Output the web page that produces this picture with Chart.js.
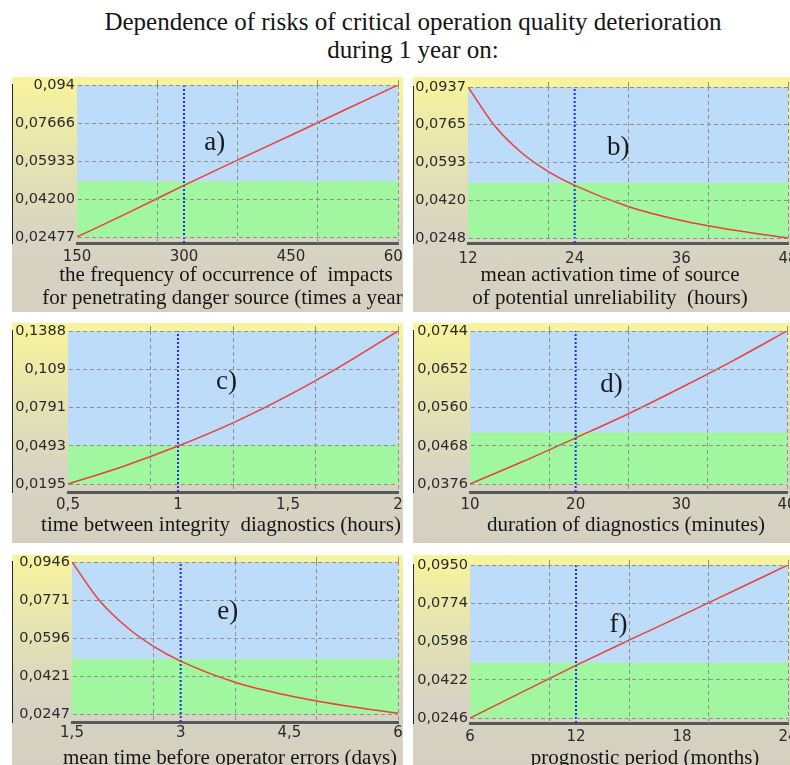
<!DOCTYPE html>
<html>
<head>
<meta charset="utf-8">
<script src="https://cdn.jsdelivr.net/npm/chart.js@4.4.0/dist/chart.umd.min.js"></script>
<style>
  body { margin: 0; background: #fff; width: 790px; height: 765px; overflow: hidden; position: relative; }
  .title { position: absolute; left: 0; top: 8px; width: 826px; text-align: center;
           font: 25px "Liberation Serif", serif; line-height: 28px; color: #151515; }
  .panel { position: absolute; overflow: hidden;
           background: linear-gradient(to bottom, #f8f49c 0%, #e6e3b2 35%, #d7d4c3 68%, #d3d0c1 100%); }
  .panel canvas { position: absolute; left: 0; top: 0; }
</style>
</head>
<body>
<div class="title">Dependence of risks of critical operation quality deterioration<br>during 1 year on:</div>
<div class="panel" style="left:12px;top:77px;width:391px;height:235px"><canvas id="chartA"></canvas></div>
<div class="panel" style="left:413px;top:77px;width:377px;height:235px"><canvas id="chartB"></canvas></div>
<div class="panel" style="left:12px;top:323px;width:391px;height:220px"><canvas id="chartC"></canvas></div>
<div class="panel" style="left:413px;top:323px;width:377px;height:220px"><canvas id="chartD"></canvas></div>
<div class="panel" style="left:12px;top:555px;width:391px;height:210px"><canvas id="chartE"></canvas></div>
<div class="panel" style="left:413px;top:555px;width:377px;height:210px"><canvas id="chartF"></canvas></div>
<script>
// acceptable risk level: green below, blue above
var threshold = 0.05;

// a) frequency of impacts
var xA = [150, 225, 300, 375, 450, 525, 600];
var riskA = [0.0248, 0.0363, 0.0483, 0.0598, 0.0711, 0.0826, 0.0940];
var xTicksA = [150, 300, 450, 600];
var xLabelsA = ["150", "300", "450", "600"];
var yTicksA = [0.02477, 0.042, 0.05933, 0.07666, 0.094];
var yLabelsA = ["0,02477", "0,04200", "0,05933", "0,07666", "0,094"];
var baseA = 300;

// b) mean activation time
var xB = [12, 15, 18, 21, 24, 30, 36, 42, 48];
var riskB = [0.0937, 0.0760, 0.0638, 0.0552, 0.0488, 0.0392, 0.0328, 0.0283, 0.0248];
var xTicksB = [12, 24, 36, 48];
var xLabelsB = ["12", "24", "36", "48"];
var yTicksB = [0.0248, 0.042, 0.0593, 0.0765, 0.0937];
var yLabelsB = ["0,0248", "0,0420", "0,0593", "0,0765", "0,0937"];
var baseB = 24;

// c) time between integrity diagnostics
var xC = [0.5, 0.75, 1, 1.25, 1.5, 1.75, 2];
var riskC = [0.0195, 0.0332, 0.0491, 0.0672, 0.0884, 0.1124, 0.1388];
var xTicksC = [0.5, 1, 1.5, 2];
var xLabelsC = ["0,5", "1", "1,5", "2"];
var yTicksC = [0.0195, 0.0493, 0.0791, 0.109, 0.1388];
var yLabelsC = ["0,0195", "0,0493", "0,0791", "0,109", "0,1388"];
var baseC = 1;

// d) duration of diagnostics
var xD = [10, 15, 20, 25, 30, 35, 40];
var riskD = [0.0376, 0.0430, 0.0487, 0.0545, 0.0608, 0.0674, 0.0744];
var xTicksD = [10, 20, 30, 40];
var xLabelsD = ["10", "20", "30", "40"];
var yTicksD = [0.0376, 0.0468, 0.056, 0.0652, 0.0744];
var yLabelsD = ["0,0376", "0,0468", "0,0560", "0,0652", "0,0744"];
var baseD = 20;

// e) mean time before operator errors
var xE = [1.5, 1.875, 2.25, 2.625, 3, 3.75, 4.5, 5.25, 6];
var riskE = [0.0946, 0.0770, 0.0648, 0.0558, 0.0490, 0.0393, 0.0331, 0.0286, 0.0250];
var xTicksE = [1.5, 3, 4.5, 6];
var xLabelsE = ["1,5", "3", "4,5", "6"];
var yTicksE = [0.0247, 0.0421, 0.0596, 0.0771, 0.0946];
var yLabelsE = ["0,0247", "0,0421", "0,0596", "0,0771", "0,0946"];
var baseE = 3;

// f) prognostic period
var xF = [6, 9, 12, 15, 18, 21, 24];
var riskF = [0.0246, 0.0367, 0.0488, 0.0604, 0.0718, 0.0834, 0.0950];
var xTicksF = [6, 12, 18, 24];
var xLabelsF = ["6", "12", "18", "24"];
var yTicksF = [0.0246, 0.0422, 0.0598, 0.0774, 0.095];
var yLabelsF = ["0,0246", "0,0422", "0,0598", "0,0774", "0,0950"];
var baseF = 12;

var tickFont = '"DejaVu Sans", Verdana, sans-serif';

// panel letter inside the plot + axis caption under the ticks
// (the caption is wider than the plot, Chart.js would squeeze it)
var panelText = {
  id: "panelText",
  afterDraw: function (chart, args, opts) {
    var ctx = chart.ctx;
    ctx.save();
    ctx.fillStyle = "#1a1a1a";
    ctx.textAlign = "center";
    ctx.textBaseline = "middle";
    ctx.font = '27px "Liberation Serif"';
    ctx.fillText(opts.letter, chart.scales.x.getPixelForValue(opts.lx), chart.scales.y.getPixelForValue(opts.ly));
    ctx.font = '21px "Liberation Serif"';
    ctx.fillStyle = "#161616";
    var lines = [].concat(opts.caption);
    lines.forEach(function (line, i) {
      ctx.fillText(line, opts.cx, opts.cy - (lines.length - 1 - i) * 23);
    });
    ctx.restore();
  }
};

function makeChart(id, g, xs, ys, xTicks, xLabels, yTicks, yLabels, base, letter, xTitle) {
  var lo = yTicks[0], hi = yTicks[yTicks.length - 1];
  var xmin = xTicks[0], xmax = xTicks[xTicks.length - 1];
  var yMin = lo - (hi - lo) * (g.axisY - g.gridBottom) / (g.gridBottom - g.plotTop);
  var canvas = document.getElementById(id);
  canvas.width = g.plotRight + 24;
  canvas.height = g.height;
  var pts = xs.map(function (x, i) { return { x: x, y: ys[i] }; });
  var flat = function (v) { return [{ x: xmin, y: v }, { x: xmax, y: v }]; };
  var none = "rgba(0,0,0,0)";

  new Chart(canvas.getContext("2d"), {
    type: "line",
    data: {
      datasets: [
        { data: pts, borderColor: "#e8403a", borderWidth: 1.5, pointRadius: 0, cubicInterpolationMode: "monotone", fill: false },
        { data: [{ x: base, y: yMin }, { x: base, y: hi }], borderColor: "#1f2ff0", borderWidth: 2, borderDash: [2, 2], pointRadius: 0, fill: false },
        { data: flat(lo), borderColor: none, borderWidth: 1, pointRadius: 0, fill: false },
        { data: flat(threshold), borderColor: none, borderWidth: 1, pointRadius: 0, fill: "-1", backgroundColor: "#a0f7a0" },
        { data: flat(hi), borderColor: none, borderWidth: 1, pointRadius: 0, fill: "-1", backgroundColor: "#bcdcfa" }
      ]
    },
    plugins: [panelText],
    options: {
      responsive: false,
      animation: false,
      devicePixelRatio: 1,
      events: [],
      layout: { padding: { left: 0, top: g.plotTop - 5, right: 24, bottom: 0 } },
      plugins: {
        legend: { display: false },
        tooltip: { enabled: false },
        panelText: { letter: letter[0], lx: letter[1], ly: letter[2], caption: xTitle, cx: g.titleX, cy: g.titleY }
      },
      scales: {
        x: {
          type: "linear", position: "bottom", min: xmin, max: xmax,
          afterBuildTicks: function (s) { s.ticks = xTicks.map(function (v) { return { value: v }; }); },
          afterFit: function (s) { s.height = g.height - g.axisY; s.paddingLeft = 0; s.paddingRight = 0; },
          grid: { display: true, drawOnChartArea: false, drawTicks: false },
          border: { display: true, color: "#585858", width: 3 },
          ticks: {
            color: "#2a2a2a", font: { family: tickFont, size: 15 }, maxRotation: 0,
            padding: g.tickY - g.axisY - 9,
            callback: function (v, i) { return xLabels[i]; }
          }
        },
        x2: {
          type: "linear", position: "top", min: xmin, max: xmax,
          afterBuildTicks: function (s) {
            s.ticks = [1, 2, 3, 4].map(function (k) { return { value: xmin + (xmax - xmin) * k / 4 }; });
          },
          afterFit: function (s) { s.height = 5; s.paddingLeft = 0; s.paddingRight = 0; },
          grid: { color: "#8f8f8f", lineWidth: 1, drawTicks: true, tickLength: 5, z: 1 },
          border: { display: false, dash: [4, 3] },
          ticks: { display: false }
        },
        y: {
          type: "linear", position: "left", min: yMin, max: hi,
          afterBuildTicks: function (s) { s.ticks = yTicks.map(function (v) { return { value: v }; }); },
          afterFit: function (s) { s.width = g.plotLeft; s.paddingTop = 0; s.paddingBottom = 0; },
          grid: { color: "#8f8f8f", lineWidth: 1, drawTicks: false, z: 1 },
          border: { display: true, color: "#2a2a2a", width: 2, dash: [4, 3] },
          ticks: {
            color: "#2a2a2a", font: { family: tickFont, size: 14.5 }, padding: 2,
            callback: function (v, i) { return yLabels[i]; }
          }
        }
      }
    }
  });
}

makeChart("chartA", { plotLeft: 65, plotRight: 386, plotTop: 8, gridBottom: 160, axisY: 166, tickY: 180, titleX: 214, titleY: 221, height: 235 },
  xA, riskA, xTicksA, xLabelsA, yTicksA, yLabelsA, baseA, ["a)", 343, 0.0676],
  ["the frequency of occurrence of  impacts", "for penetrating danger source (times a year)"]);
makeChart("chartB", { plotLeft: 55, plotRight: 375, plotTop: 10, gridBottom: 161, axisY: 166, tickY: 182, titleX: 197, titleY: 221, height: 235 },
  xB, riskB, xTicksB, xLabelsB, yTicksB, yLabelsB, baseB, ["b)", 28.9, 0.0659],
  ["mean activation time of source", "of potential unreliability  (hours)"]);
makeChart("chartC", { plotLeft: 56, plotRight: 386, plotTop: 8, gridBottom: 161, axisY: 169, tickY: 182, titleX: 209, titleY: 202, height: 220 },
  xC, riskC, xTicksC, xLabelsC, yTicksC, yLabelsC, baseC, ["c)", 1.22, 0.099],
  "time between integrity  diagnostics (hours)");
makeChart("chartD", { plotLeft: 57, plotRight: 374, plotTop: 8, gridBottom: 161, axisY: 169, tickY: 182, titleX: 213, titleY: 202, height: 220 },
  xD, riskD, xTicksD, xLabelsD, yTicksD, yLabelsD, baseD, ["d)", 23.4, 0.0614],
  "duration of diagnostics (minutes)");
makeChart("chartE", { plotLeft: 60, plotRight: 386, plotTop: 7, gridBottom: 159, axisY: 167, tickY: 178, titleX: 218, titleY: 203, height: 222 },
  xE, riskE, xTicksE, xLabelsE, yTicksE, yLabelsE, baseE, ["e)", 3.65, 0.0716],
  "mean time before operator errors (days)");
makeChart("chartF", { plotLeft: 57, plotRight: 375, plotTop: 10, gridBottom: 163, axisY: 168, tickY: 182, titleX: 232, titleY: 203, height: 222 },
  xF, riskF, xTicksF, xLabelsF, yTicksF, yLabelsF, baseF, ["f)", 14.4, 0.0674],
  "prognostic period (months)");
</script>
</body>
</html>
